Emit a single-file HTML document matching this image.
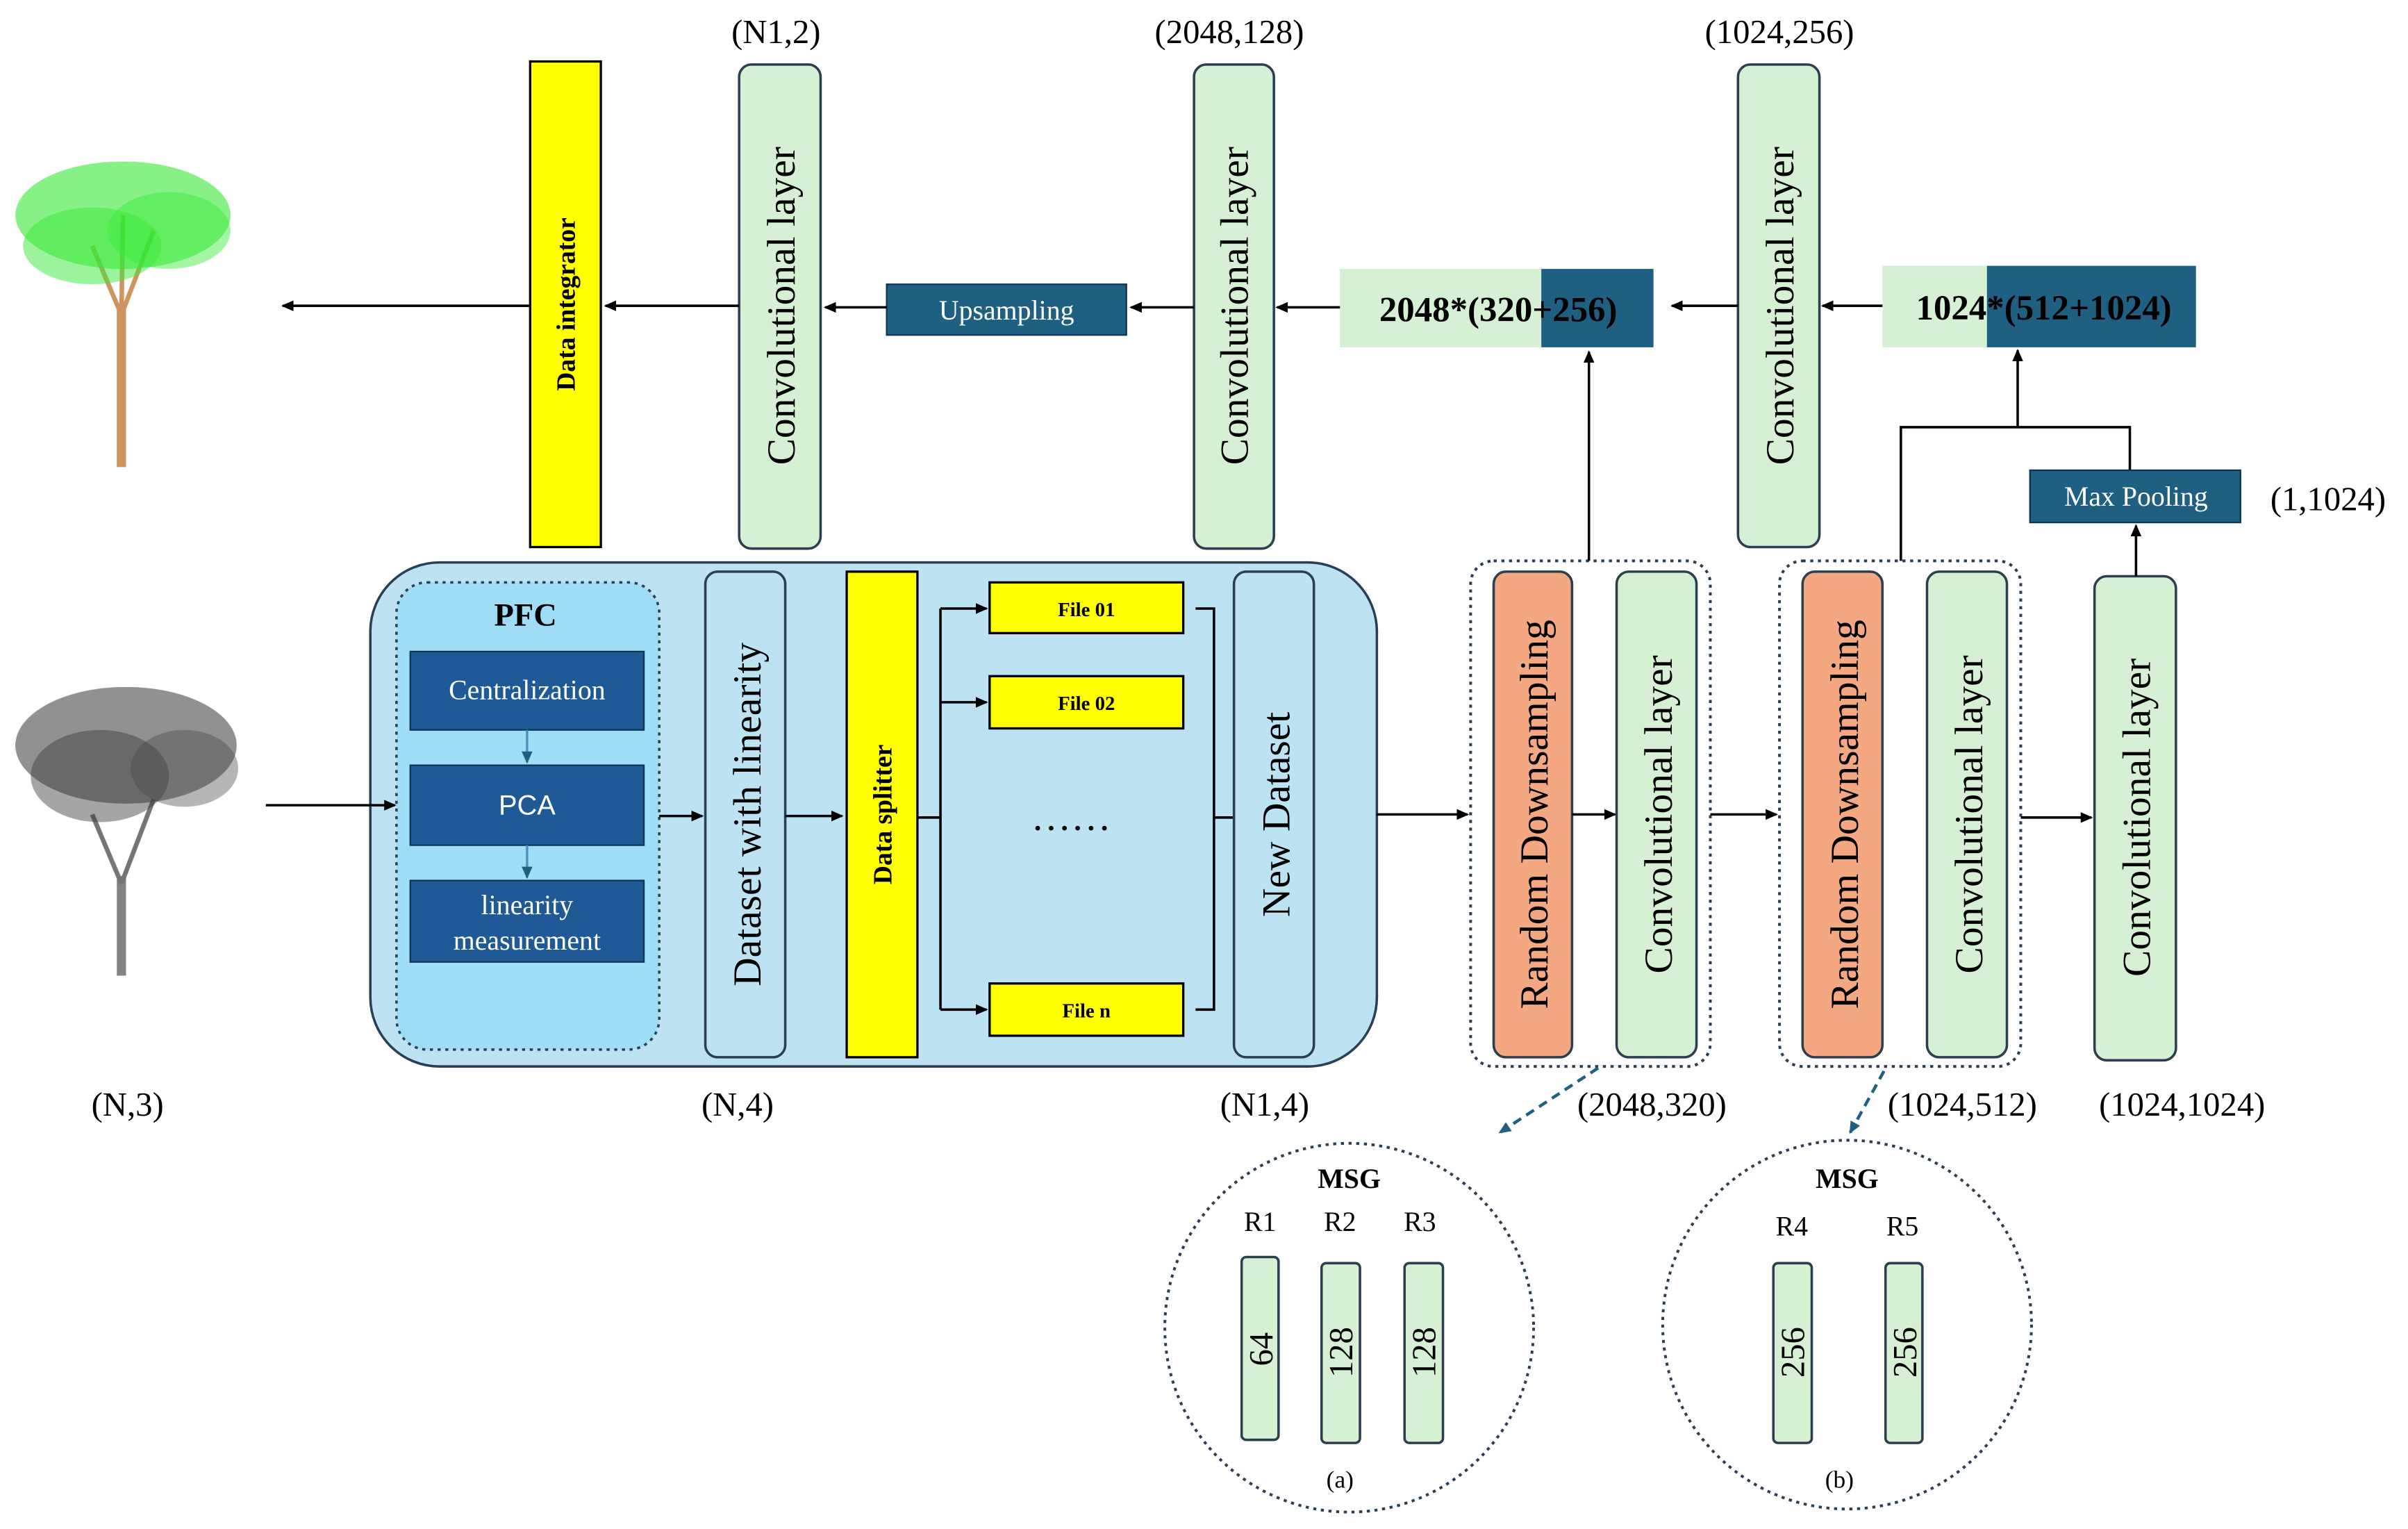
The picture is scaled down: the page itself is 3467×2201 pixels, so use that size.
<!DOCTYPE html>
<html><head><meta charset="utf-8"><style>
html,body{margin:0;padding:0;background:#fff}
svg{display:block}
text{font-family:"Liberation Serif","Times New Roman",serif;fill:#000}
</style></head><body>
<svg width="3467" height="2201" viewBox="0 0 1567 995" preserveAspectRatio="none" xmlns="http://www.w3.org/2000/svg" font-family="Liberation Serif, serif">
<defs>
<marker id="a" markerWidth="8" markerHeight="8" refX="7" refY="4" orient="auto" markerUnits="userSpaceOnUse"><path d="M0,0.5 L8,4 L0,7.5 z" fill="#000"/></marker>
<marker id="b" markerWidth="8" markerHeight="8" refX="7" refY="4" orient="auto" markerUnits="userSpaceOnUse"><path d="M0,0.5 L8,4 L0,7.5 z" fill="#1e5f82"/></marker>
</defs>
<!-- trees -->
<g opacity="0.9">
<rect x="76" y="200" width="6" height="104" fill="#c98a4f"/>
<path d="M79,205 L60,160 M79,205 L100,150 M79,205 L80,140" stroke="#c98a4f" stroke-width="3"/>
<ellipse cx="80" cy="140" rx="70" ry="35" fill="#22e622" opacity="0.6"/>
<ellipse cx="60" cy="160" rx="45" ry="25" fill="#22e622" opacity="0.5"/>
<ellipse cx="110" cy="150" rx="40" ry="25" fill="#22e622" opacity="0.45"/>
<rect x="76" y="570" width="6" height="65" fill="#777"/>
<path d="M79,575 L60,530 M79,575 L100,520" stroke="#666" stroke-width="3"/>
<ellipse cx="82" cy="485" rx="72" ry="38" fill="#333" opacity="0.6"/>
<ellipse cx="65" cy="505" rx="45" ry="30" fill="#222" opacity="0.45"/>
<ellipse cx="120" cy="500" rx="35" ry="25" fill="#333" opacity="0.4"/>
</g>
<!-- top row -->
<rect x="345" y="40" width="46" height="316" fill="#ffff00" stroke="#000" stroke-width="1.5"/>
<text transform="translate(374,198) rotate(-90)" text-anchor="middle" font-size="17" font-weight="bold">Data integrator</text>
<g fill="#d6f0d4" stroke="#2c3e50" stroke-width="1.6">
<rect x="481" y="42" width="53" height="315" rx="8"/>
<rect x="777" y="42" width="52" height="315" rx="8"/>
<rect x="1131" y="42" width="53" height="314" rx="8"/>
<rect x="1052" y="372" width="52" height="316" rx="8"/>
<rect x="1254" y="372" width="52" height="316" rx="8"/>
<rect x="1363" y="375" width="53" height="315" rx="8"/>
</g>
<g font-size="26" text-anchor="middle">
<text transform="translate(517,199) rotate(-90)">Convolutional layer</text>
<text transform="translate(812,199) rotate(-90)">Convolutional layer</text>
<text transform="translate(1167,199) rotate(-90)">Convolutional layer</text>
<text transform="translate(1088,530) rotate(-90)">Convolutional layer</text>
<text transform="translate(1290,530) rotate(-90)">Convolutional layer</text>
<text transform="translate(1399,532) rotate(-90)">Convolutional layer</text>
</g>
<rect x="577" y="185" width="156" height="33" fill="#1e5f82" stroke="#0d3450"/>
<text x="655" y="208" text-anchor="middle" font-size="18" style="fill:#fff">Upsampling</text>
<rect x="872" y="175" width="131" height="51" fill="#d6f0d4"/>
<rect x="1003" y="175" width="73" height="51" fill="#1e5f82"/>
<text x="975" y="209" text-anchor="middle" font-size="23" font-weight="bold">2048*(320+256)</text>
<rect x="1225" y="173" width="68" height="53" fill="#d6f0d4"/>
<rect x="1293" y="173" width="136" height="53" fill="#1e5f82"/>
<text x="1330" y="208" text-anchor="middle" font-size="23" font-weight="bold">1024*(512+1024)</text>
<rect x="1321" y="306" width="137" height="34" fill="#1e5f82" stroke="#0d3450"/>
<text x="1390" y="329" text-anchor="middle" font-size="18" style="fill:#fff">Max Pooling</text>
<g font-size="22" text-anchor="middle">
<text x="505" y="28">(N1,2)</text>
<text x="800" y="28">(2048,128)</text>
<text x="1158" y="28">(1024,256)</text>
<text x="1515" y="332">(1,1024)</text>
<text x="83" y="726">(N,3)</text>
<text x="480" y="726">(N,4)</text>
<text x="823" y="726">(N1,4)</text>
<text x="1075" y="726">(2048,320)</text>
<text x="1277" y="726">(1024,512)</text>
<text x="1420" y="726">(1024,1024)</text>
</g>
<!-- big box -->
<rect x="241" y="366" width="655" height="328" rx="45" fill="#bde3f3" stroke="#2a3f55" stroke-width="1.6"/>
<rect x="258" y="379" width="171" height="304" rx="20" fill="#9fdcf5" stroke="#2a3f55" stroke-width="1.6" stroke-dasharray="2,3"/>
<text x="342" y="407" text-anchor="middle" font-size="21" font-weight="bold">PFC</text>
<g fill="#1f5a96" stroke="#0d3450">
<rect x="267" y="424" width="152" height="51"/>
<rect x="267" y="498" width="152" height="52"/>
<rect x="267" y="573" width="152" height="53"/>
</g>
<g font-size="18" text-anchor="middle">
<text x="343" y="455" style="fill:#fff">Centralization</text>
<text x="343" y="530" font-family="Liberation Sans, sans-serif" style="fill:#fff;font-family:'Liberation Sans',sans-serif">PCA</text>
<text x="343" y="595" style="fill:#fff">linearity</text>
<text x="343" y="618" style="fill:#fff">measurement</text>
</g>
<line x1="343" y1="475" x2="343" y2="496" stroke="#4a8fc0" stroke-width="1.5" marker-end="url(#b)"/>
<line x1="343" y1="550" x2="343" y2="571" stroke="#4a8fc0" stroke-width="1.5" marker-end="url(#b)"/>
<rect x="459" y="372" width="52" height="316" rx="8" fill="#bde3f3" stroke="#2a3f55" stroke-width="1.6"/>
<text transform="translate(495,530) rotate(-90)" text-anchor="middle" font-size="26">Dataset with linearity</text>
<rect x="551" y="372" width="46" height="316" fill="#ffff00" stroke="#000" stroke-width="1.5"/>
<text transform="translate(580,530) rotate(-90)" text-anchor="middle" font-size="17" font-weight="bold">Data splitter</text>
<g fill="#ffff00" stroke="#000" stroke-width="1.5">
<rect x="644" y="379" width="126" height="33"/>
<rect x="644" y="440" width="126" height="34"/>
<rect x="644" y="640" width="126" height="34"/>
</g>
<g font-size="13" font-weight="bold" text-anchor="middle">
<text x="707" y="401">File 01</text>
<text x="707" y="462">File 02</text>
<text x="707" y="662">File n</text>
</g>
<text x="697" y="540" text-anchor="middle" font-size="26">……</text>
<g stroke="#000" stroke-width="1.6" fill="none">
<line x1="597" y1="532" x2="612" y2="532"/>
<line x1="612" y1="396" x2="612" y2="657"/>
<line x1="612" y1="396" x2="642" y2="396" marker-end="url(#a)"/>
<line x1="612" y1="457" x2="642" y2="457" marker-end="url(#a)"/>
<line x1="612" y1="657" x2="642" y2="657" marker-end="url(#a)"/>
<polyline points="778,396 790,396 790,657 778,657"/>
<line x1="790" y1="532" x2="803" y2="532"/>
</g>
<rect x="803" y="372" width="52" height="316" rx="8" fill="#bde3f3" stroke="#2a3f55" stroke-width="1.6"/>
<text transform="translate(839,530) rotate(-90)" text-anchor="middle" font-size="26">New Dataset</text>
<!-- groups -->
<g fill="none" stroke="#2a3f55" stroke-width="1.8" stroke-dasharray="2,3">
<rect x="957" y="365" width="156" height="329" rx="15"/>
<rect x="1158" y="365" width="157" height="329" rx="15"/>
<circle cx="878" cy="864" r="120"/>
<circle cx="1202" cy="862" r="120"/>
</g>
<g fill="#f4a882" stroke="#2c3e50" stroke-width="1.6">
<rect x="972" y="372" width="51" height="316" rx="8"/>
<rect x="1173" y="372" width="52" height="316" rx="8"/>
</g>
<text transform="translate(1007,530) rotate(-90)" text-anchor="middle" font-size="26">Random Downsampling</text>
<text transform="translate(1209,530) rotate(-90)" text-anchor="middle" font-size="26">Random Downsampling</text>
<g stroke="#1e5f82" stroke-width="2" stroke-dasharray="6,4">
<line x1="1040" y1="695" x2="976" y2="737" marker-end="url(#b)"/>
<line x1="1226" y1="697" x2="1204" y2="737" marker-end="url(#b)"/>
</g>
<!-- MSG -->
<g font-size="18" text-anchor="middle">
<text x="878" y="773" font-weight="bold">MSG</text>
<text x="1202" y="773" font-weight="bold">MSG</text>
<text x="820" y="801">R1</text><text x="872" y="801">R2</text><text x="924" y="801">R3</text>
<text x="1166" y="804">R4</text><text x="1238" y="804">R5</text>
<text x="872" y="968" font-size="16">(a)</text>
<text x="1197" y="968" font-size="16">(b)</text>
</g>
<g fill="#d6f0d4" stroke="#2c3e50" stroke-width="1.6">
<rect x="808" y="818" width="24" height="119" rx="3"/>
<rect x="860" y="822" width="25" height="117" rx="3"/>
<rect x="914" y="822" width="25" height="117" rx="3"/>
<rect x="1154" y="822" width="25" height="117" rx="3"/>
<rect x="1227" y="822" width="24" height="117" rx="3"/>
</g>
<g font-size="22" text-anchor="middle">
<text transform="translate(828,878) rotate(-90)">64</text>
<text transform="translate(880,880) rotate(-90)">128</text>
<text transform="translate(934,880) rotate(-90)">128</text>
<text transform="translate(1174,880) rotate(-90)">256</text>
<text transform="translate(1247,880) rotate(-90)">256</text>
</g>
<!-- arrows on top -->
<g stroke="#000" stroke-width="1.6" fill="none">
<line x1="345" y1="199" x2="184" y2="199" marker-end="url(#a)"/>
<line x1="481" y1="199" x2="394" y2="199" marker-end="url(#a)"/>
<line x1="577" y1="200" x2="537" y2="200" marker-end="url(#a)"/>
<line x1="777" y1="200" x2="736" y2="200" marker-end="url(#a)"/>
<line x1="872" y1="200" x2="831" y2="200" marker-end="url(#a)"/>
<line x1="1131" y1="199" x2="1088" y2="199" marker-end="url(#a)"/>
<line x1="1225" y1="199" x2="1186" y2="199" marker-end="url(#a)"/>
<line x1="1034" y1="365" x2="1034" y2="229" marker-end="url(#a)"/>
<polyline points="1237,365 1237,278 1386,278 1386,306"/>
<line x1="1313" y1="278" x2="1313" y2="228" marker-end="url(#a)"/>
<line x1="1390" y1="375" x2="1390" y2="342" marker-end="url(#a)"/>
<line x1="173" y1="524" x2="257" y2="524" marker-end="url(#a)"/>
<line x1="429" y1="531" x2="457" y2="531" marker-end="url(#a)"/>
<line x1="511" y1="531" x2="548" y2="531" marker-end="url(#a)"/>
<line x1="896" y1="530" x2="955" y2="530" marker-end="url(#a)"/>
<line x1="1023" y1="530" x2="1051" y2="530" marker-end="url(#a)"/>
<line x1="1113" y1="530" x2="1156" y2="530" marker-end="url(#a)"/>
<line x1="1315" y1="532" x2="1361" y2="532" marker-end="url(#a)"/>
</g>
</svg>
</body></html>
